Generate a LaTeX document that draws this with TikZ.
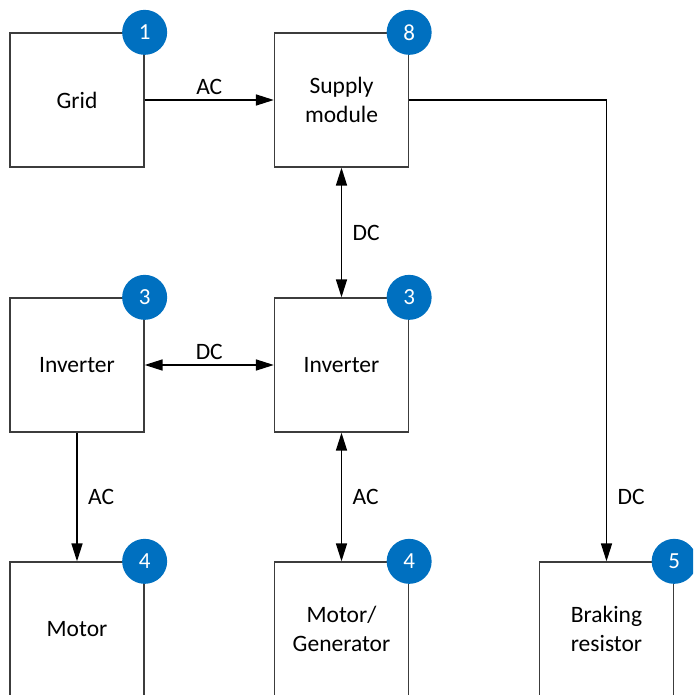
\documentclass[tikz,border=0pt]{standalone}
\usepackage{fontspec}
\setmainfont{Carlito}
\usepackage{tikz}
\usetikzlibrary{arrows.meta, positioning}
\definecolor{badgeblue}{RGB}{0,112,192}
\definecolor{boxgray}{RGB}{60,60,60}

\begin{document}
\begin{tikzpicture}[x=1pt, y=-1pt, >={Triangle[length=18pt, width=11pt]},
    blockbox/.style={draw=boxgray, line width=1.3pt, minimum width=134pt,
      minimum height=134pt, inner sep=0pt, align=center,
      font=\fontsize{23.5}{29}\selectfont},
    badge/.style={circle, fill=badgeblue, text=white, minimum size=45pt,
      inner sep=0pt, font=\fontsize{23}{23}\selectfont},
    link/.style={line width=1.6pt},
    linklabel/.style={font=\fontsize{23.5}{28}\selectfont}]
    \useasboundingbox (0,0) rectangle (693,695);
    \clip (0,0) rectangle (693,695);
    % top row
    \node[blockbox] (grid) at (77,100) {Grid};
    \node[blockbox] (supply) at (341.5,100) {Supply\\module};
    % middle row
    \node[blockbox] (invleft) at (77,365) {Inverter};
    \node[blockbox] (invmid) at (341.5,365) {Inverter};
    % bottom row
    \node[blockbox] (motor) at (77,629) {Motor};
    \node[blockbox] (motgen) at (341.5,629) {Motor/\\Generator};
    \node[blockbox] (brake) at (606.5,629) {Braking\\resistor};
    % badges
    \node[badge] (bgrid) at (grid.north east) {1};
    \node[badge] (bsupply) at (supply.north east) {8};
    \node[badge] (binvleft) at (invleft.north east) {3};
    \node[badge] (binvmid) at (invmid.north east) {3};
    \node[badge] (bmotor) at (motor.north east) {4};
    \node[badge] (bmotgen) at (motgen.north east) {4};
    \node[badge] (bbrake) at (brake.north east) {5};
    % connections
    \draw[link, ->] (grid) -- (supply)
          node[linklabel, midway, above=1pt] (lgrid) {AC};
    \draw[link, <->] (supply) -- (invmid)
          node[linklabel, midway, right=7pt] (lsupply) {DC};
    \draw[link, <->] (invleft) -- (invmid)
          node[linklabel, midway, above=1pt] (linv) {DC};
    \draw[link, ->] (invleft) -- (motor)
          node[linklabel, midway, right=7pt] (lmotor) {AC};
    \draw[link, <->] (invmid) -- (motgen)
          node[linklabel, midway, right=7pt] (lmotgen) {AC};
    \draw[link, ->] (supply.east) -| (brake.north)
          node[linklabel, pos=0.93, right=7pt] (lbrake) {DC};
  \end{tikzpicture}
\end{document}
